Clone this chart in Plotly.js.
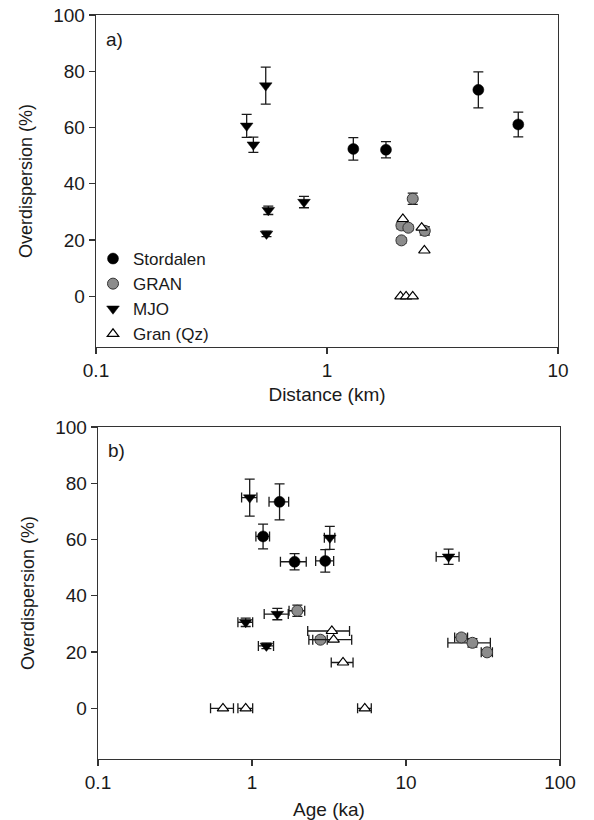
<!DOCTYPE html>
<html><head><meta charset="utf-8">
<script src="https://cdn.plot.ly/plotly-3.0.1.min.js"></script>
<style>html,body{margin:0;padding:0;background:#fff}#chart{width:594px;height:820px}</style>
</head><body><div id="chart"></div>
<script>
// ---- Data ----
const seriesNames = ["Stordalen", "GRAN", "MJO", "Gran (Qz)"];

// Stordalen
const distStordalen = [4.52, 6.73, 1.30, 1.80];
const odStordalen = [73.4, 61.1, 52.4, 52.1];
const odErrStordalen = [6.4, 4.4, 4.0, 2.9];
const ageStordalen = [1.51, 1.18, 2.99, 1.89];
const ageErrStordalen = [0.22, 0.12, 0.40, 0.36];

// GRAN
const distGRAN = [2.35, 2.10, 2.25, 2.65, 2.10];
const odGRAN = [34.7, 25.2, 24.4, 23.3, 19.9];
const odErrGRAN = [2.0, 1.2, 1.0, 1.5, 1.0];
const ageGRAN = [1.97, 22.9, 2.78, 27.0, 33.6];
const ageErrGRAN = [0.23, 2.2, 0.30, 8.3, 2.8];

// MJO
const distMJO = [0.543, 0.449, 0.48, 0.795, 0.557, 0.547];
const odMJO = [74.9, 60.6, 53.9, 33.5, 30.6, 22.2];
const odErrMJO = [6.6, 4.1, 2.7, 2.0, 1.5, 1.0];
const ageMJO = [0.966, 3.20, 18.9, 1.46, 0.91, 1.24];
const ageErrMJO = [0.11, 0.25, 3.2, 0.26, 0.10, 0.14];

// Gran (Qz)
const distQz = [2.13, 2.57, 2.64, 2.08, 2.20, 2.35];
const odQz = [27.5, 24.4, 16.3, 0, 0, 0];
const ageQz = [3.30, 3.39, 3.90, 0.648, 0.91, 5.40];
const ageErrQz = [1.0, 1.05, 0.63, 0.11, 0.10, 0.55];

// Axis ticks
const yTickVals = [0, 20, 40, 60, 80, 100];
const xTickValsA = [0.1, 1, 10];
const xTickTextA = ["0.1", "1", "10"];
const xTickValsB = [0.1, 1, 10, 100];
const xTickTextB = ["0.1", "1", "10", "100"];

// ---- Styles ----
const FONT = "Liberation Sans, Arial, sans-serif";
const INK = "#1a1a1a";
const ebStyle = {color: INK, thickness: 1.3, width: 5};
const markers = {
  "Stordalen": {symbol: "circle", size: 11, color: "#000", line: {color: "#000", width: 0.5}},
  "GRAN": {symbol: "circle", size: 11, color: "#8c8c8c", line: {color: "#333", width: 1}},
  "MJO": {symbol: "triangle-down", size: 11, color: "#000", line: {color: "#000", width: 0.5}},
  "Gran (Qz)": {symbol: "triangle-up", size: 10, color: "#fff", line: {color: "#000", width: 1.2}}
};

function errY(arr) { return arr ? Object.assign({type: "data", array: arr, visible: true}, ebStyle) : {visible: false}; }
function errX(arr) { return arr ? Object.assign({type: "data", array: arr, visible: true}, ebStyle) : {visible: false}; }

const groups = [
  {name: "Stordalen", dist: distStordalen, od: odStordalen, odErr: odErrStordalen, age: ageStordalen, ageErr: ageErrStordalen},
  {name: "GRAN", dist: distGRAN, od: odGRAN, odErr: odErrGRAN, age: ageGRAN, ageErr: ageErrGRAN},
  {name: "MJO", dist: distMJO, od: odMJO, odErr: odErrMJO, age: ageMJO, ageErr: ageErrMJO},
  {name: "Gran (Qz)", dist: distQz, od: odQz, odErr: null, age: ageQz, ageErr: ageErrQz}
];

const traces = [];
groups.forEach(g => {
  traces.push({
    type: "scatter", mode: "markers", name: g.name, legendgroup: g.name,
    x: g.dist, y: g.od, xaxis: "x", yaxis: "y",
    error_y: errY(g.odErr), marker: markers[g.name], showlegend: true
  });
});
groups.forEach(g => {
  traces.push({
    type: "scatter", mode: "markers", name: g.name, legendgroup: g.name,
    x: g.age, y: g.od, xaxis: "x2", yaxis: "y2",
    error_y: errY(g.odErr), error_x: errX(g.ageErr), marker: markers[g.name], showlegend: false
  });
});

const W = 594, H = 820;
function axisCommon() {
  return {
    showline: true, mirror: true, linecolor: "#333", linewidth: 1.3,
    ticks: "outside", ticklen: 6, tickwidth: 1.3, tickcolor: "#333",
    showgrid: false, zeroline: false,
    tickfont: {family: FONT, size: 19, color: INK}
  };
}

const layout = {
  width: W, height: H,
  margin: {l: 0, r: 0, t: 0, b: 0},
  paper_bgcolor: "#fff", plot_bgcolor: "#fff",
  font: {family: FONT, color: INK},
  showlegend: true,
  legend: {
    x: 93 / W, y: 1 - 241 / H, xanchor: "left", yanchor: "top",
    bgcolor: "rgba(0,0,0,0)", borderwidth: 0, tracegroupgap: 0,
    font: {family: FONT, size: 17, color: INK},
    itemclick: false
  },
  xaxis: Object.assign(axisCommon(), {
    type: "log", domain: [96 / W, 558 / W], anchor: "y",
    range: [-1, 1], tickvals: xTickValsA, ticktext: xTickTextA,
    title: {text: "Distance (km)", font: {family: FONT, size: 19, color: INK}, standoff: 7}
  }),
  yaxis: Object.assign(axisCommon(), {
    domain: [1 - 347 / H, 1 - 15 / H], anchor: "x",
    range: [-18, 100], tickvals: yTickVals,
    title: {text: "Overdispersion (%)", font: {family: FONT, size: 18, color: INK}, standoff: 16}
  }),
  xaxis2: Object.assign(axisCommon(), {
    type: "log", domain: [98 / W, 560 / W], anchor: "y2",
    range: [-1, 2], tickvals: xTickValsB, ticktext: xTickTextB,
    title: {text: "Age (ka)", font: {family: FONT, size: 19, color: INK}, standoff: 11}
  }),
  yaxis2: Object.assign(axisCommon(), {
    domain: [1 - 759 / H, 1 - 427 / H], anchor: "x2",
    range: [-18, 100], tickvals: yTickVals,
    title: {text: "Overdispersion (%)", font: {family: FONT, size: 18, color: INK}, standoff: 16}
  }),
  annotations: [
    {text: "a)", xref: "x domain", yref: "y domain", x: 0.018, y: 0.925, xanchor: "left", yanchor: "middle",
     showarrow: false, font: {family: FONT, size: 19, color: INK}},
    {text: "b)", xref: "x2 domain", yref: "y2 domain", x: 0.018, y: 0.93, xanchor: "left", yanchor: "middle",
     showarrow: false, font: {family: FONT, size: 19, color: INK}}
  ]
};

Plotly.newPlot("chart", traces, layout, {staticPlot: true, displayModeBar: false});
</script></body></html>
